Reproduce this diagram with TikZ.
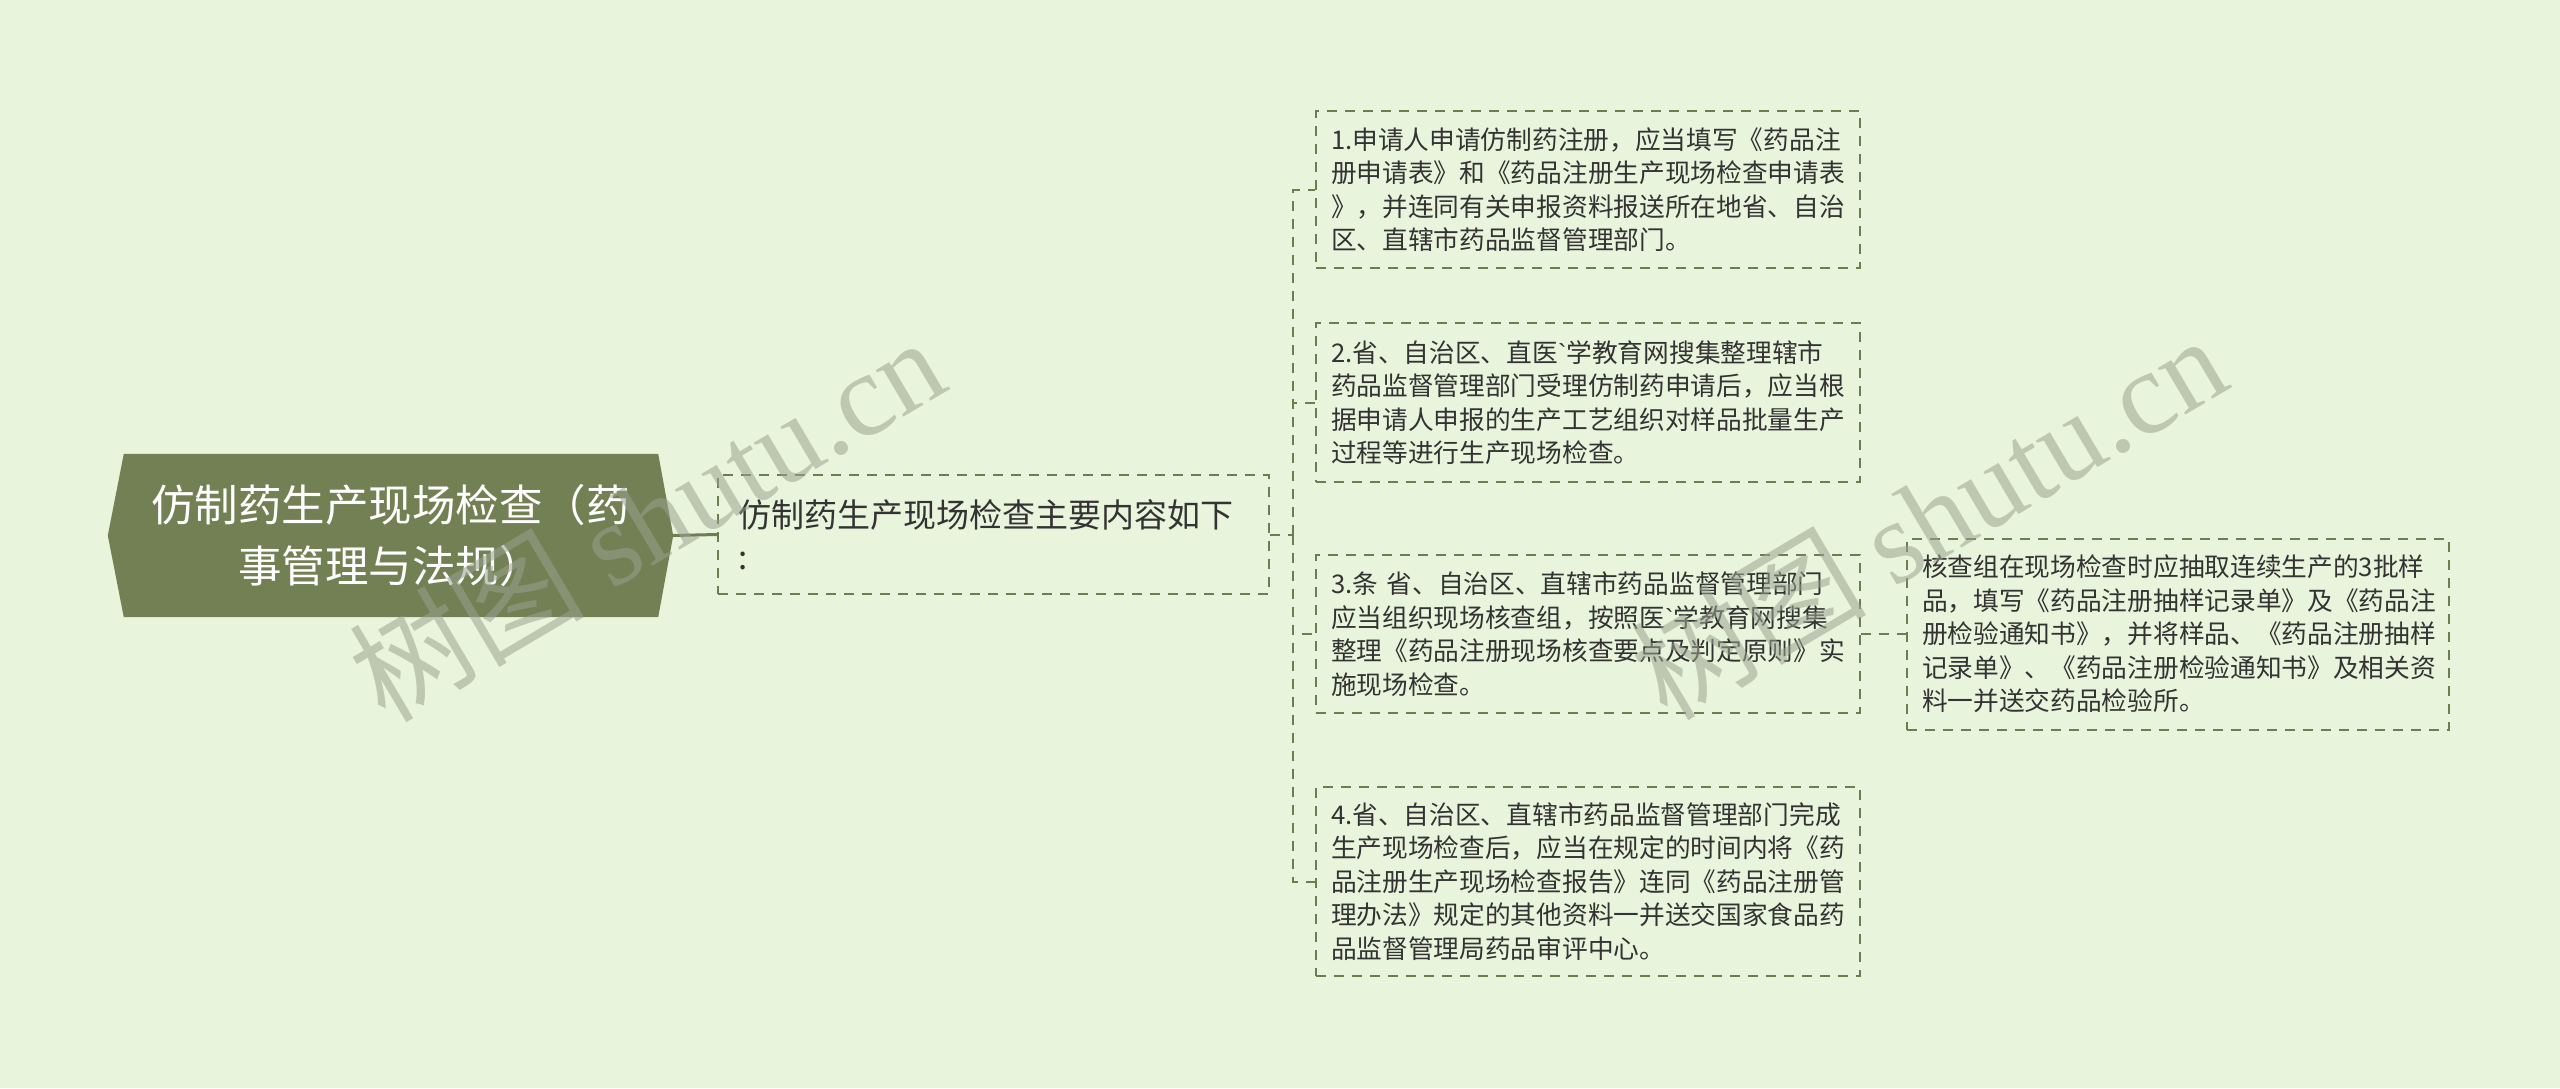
\documentclass[tikz,border=0pt]{standalone}
\usepackage{fontspec}
\setmainfont{Noto Sans CJK SC}
\newfontfamily\wmserif{Liberation Serif}
\newfontfamily\wmcjk{Noto Sans CJK SC}
\newfontfamily\latinsans[Ligatures=NoCommon]{Liberation Sans}
\usetikzlibrary{backgrounds}
\definecolor{bgc}{HTML}{E8F5DC}
\definecolor{rootc}{HTML}{728054}
\definecolor{linec}{HTML}{6E7D50}
\definecolor{txtc}{HTML}{333333}
\definecolor{wmc}{HTML}{9AA290}
\newcommand{\bq}{{\latinsans\symbol{96}}}
\begin{document}
\begin{tikzpicture}[x=1pt,y=-1pt,
  conn/.style={draw=linec, line width=2pt, dash pattern=on 10pt off 8pt},
  solidconn/.style={draw=linec, line width=3pt},
  box/.style={draw=linec, line width=2pt, dash pattern=on 10pt off 8pt, text=txtc,
    align=left, inner xsep=15pt, inner ysep=0pt, text width=514pt,
    font=\fontsize{25.7pt}{33.5pt}\selectfont},
  lonebox/.style={box, text width=511pt, inner xsep=20pt,
    font=\fontsize{33pt}{42pt}\selectfont},
  rootnode/.style={minimum width=565pt, minimum height=163pt, inner sep=0pt},
  roottext/.style={text=white, align=center, font=\fontsize{43.5pt}{61pt}\selectfont},
  wm/.style={text=wmc, text opacity=0.55, inner sep=0pt}
]
\useasboundingbox (0,0) rectangle (2560,1088);
\fill[bgc] (0,0) rectangle (2560,1088);

% root
\node[rootnode] (root) at (390.5,535.5) {};
\fill[rootc] (root.west) -- ([xshift=16pt]root.north west) -- ([xshift=-15pt]root.north east)
  -- (root.east) -- ([xshift=-15pt]root.south east) -- ([xshift=16pt]root.south west) -- cycle;
\node[roottext] (roottxt) at (root.center) {仿制药生产现场检查（药\\事管理与法规）};

% level 1
\node[lonebox, minimum height=119pt] (l1) at (993.5,534.5)
  {仿制药生产现场检查主要内容如下\\:};

% children
\node[box, minimum height=157pt] (c1) at (1588,189.5)
  {1.申请人申请仿制药注册，应当填写《药品注\\册申请表》和《药品注册生产现场检查申请表\\》，并连同有关申报资料报送所在地省、自治\\区、直辖市药品监督管理部门。};
\node[box, minimum height=159pt] (c2) at (1588,402.5)
  {2.省、自治区、直医\bq 学教育网搜集整理辖市\\药品监督管理部门受理仿制药申请后，应当根\\据申请人申报的生产工艺组织对样品批量生产\\过程等进行生产现场检查。};
\node[box, minimum height=158pt] (c3) at (1588,634)
  {3.条 省、自治区、直辖市药品监督管理部门\\应当组织现场核查组，按照医\bq 学教育网搜集\\整理《药品注册现场核查要点及判定原则》实\\施现场检查。};
\node[box, minimum height=189pt] (c4) at (1588,881.5)
  {4.省、自治区、直辖市药品监督管理部门完成\\生产现场检查后，应当在规定的时间内将《药\\品注册生产现场检查报告》连同《药品注册管\\理办法》规定的其他资料一并送交国家食品药\\品监督管理局药品审评中心。};
\node[box, text width=512pt, minimum height=191pt] (c5) at (2178,634)
  {核查组在现场检查时应抽取连续生产的3批样\\品，填写《药品注册抽样记录单》及《药品注\\册检验通知书》，并将样品、《药品注册抽样\\记录单》、《药品注册检验通知书》及相关资\\料一并送交药品检验所。};

% connectors
\coordinate (fork) at (1293,534.5);
\draw[solidconn] (root.east) -- (l1.west);
\draw[conn] (l1.east) -- (fork);
\draw[conn] (fork) |- (c1.west);
\draw[conn] (fork) |- (c2.west);
\draw[conn] (fork) |- (c3.west);
\draw[conn] (fork) |- (c4.west);
\draw[conn] (c3.east) -- (c5.west);

% watermarks
\node[wm, rotate=30.6] (wm1) at (646,518) {\fontsize{118pt}{118pt}\wmcjk 树图 \wmserif shutu.cn};
\node[wm, rotate=30.6] (wm2) at (1928,516) {\fontsize{118pt}{118pt}\wmcjk 树图 \wmserif shutu.cn};
\end{tikzpicture}
\end{document}
